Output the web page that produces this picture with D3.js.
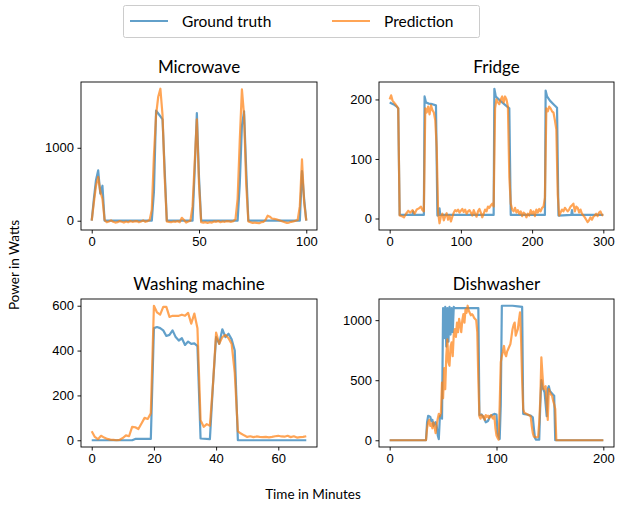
<!DOCTYPE html>
<html>
<head>
<meta charset="utf-8">
<script src="https://cdn.jsdelivr.net/npm/d3@7"></script>
<style>
  body { margin: 0; background: #fff; }
  svg { font-family: Lato, "Open Sans", sans-serif; }
</style>
</head>
<body>
<svg id="chart" width="618" height="508"></svg>
<script>
// values, as [minute, watts] pairs
const microwaveTruth = [[0,0],[1,300],[2,560],[3,690],[4,370],[5,480],[6,0],[28,0],[29,400],[30,1510],[31,1470],[32,1430],[33,1390],[34,700],[35,0],[47,0],[48,700],[49,1475],[50,600],[51,0],[68,0],[69,500],[70,1300],[71,1500],[72,700],[73,0],[97,0],[98,680],[99,300],[100,0]];
const microwavePred = [[0,0],[1,250],[2,480],[3,600],[4,400],[5,300],[6,10],[7,-20],[8,-10],[9,5],[10,-15],[11,-25],[12,-20],[13,-5],[14,-15],[15,-25],[16,-10],[17,-20],[18,-5],[19,-15],[20,-10],[21,-5],[22,-20],[23,-10],[24,5],[25,-15],[26,-5],[27,10],[28,150],[29,900],[30,1450],[31,1700],[32,1810],[33,1450],[34,600],[35,-10],[36,-15],[37,-20],[38,-10],[39,-15],[40,-5],[41,-20],[42,40],[43,10],[44,-25],[45,-10],[46,0],[47,200],[48,800],[49,1390],[50,500],[51,-20],[52,-25],[53,-20],[54,-30],[55,-20],[56,-25],[57,-10],[58,-15],[59,-5],[60,-20],[61,-10],[62,-15],[63,-5],[64,-10],[65,-15],[66,-5],[67,20],[68,300],[69,1100],[70,1800],[71,1450],[72,500],[73,-10],[74,-20],[75,-30],[76,-25],[77,-30],[78,-35],[79,-20],[80,-15],[81,10],[82,70],[83,55],[84,30],[85,25],[86,20],[87,10],[88,0],[89,-10],[90,-20],[91,-30],[92,-25],[93,-15],[94,-10],[95,0],[96,10],[97,200],[98,840],[99,250],[100,0]];

const fridgeTruth = [[0,195],[5,192],[10,188],[12,185],[14,6],[32,6],[33,12],[34,6],[48,6],[49,205],[51,195],[55,193],[60,192],[65,190],[67,5],[69,6],[70,17],[71,6],[146,6],[147,218],[149,205],[155,198],[160,193],[165,188],[168,185],[170,6],[218,6],[219,215],[221,205],[225,198],[230,192],[235,186],[237,5],[255,6],[256,14],[257,6],[300,6]];
const fridgePred = [[0,200],[2,207],[4,198],[8,192],[12,185],[14,5],[17,4],[20,2],[23,8],[26,13],[29,10],[32,14],[35,8],[38,15],[41,17],[44,20],[46,14],[48,12],[50,185],[52,178],[54,188],[56,175],[58,190],[60,182],[62,178],[64,165],[66,120],[68,10],[70,-8],[72,4],[74,8],[76,-3],[78,4],[80,9],[82,-2],[84,5],[86,-5],[88,3],[90,10],[92,14],[94,12],[96,15],[98,10],[100,13],[102,16],[104,11],[106,15],[108,8],[110,12],[112,14],[114,10],[116,5],[118,14],[120,8],[122,3],[124,12],[126,16],[128,10],[130,2],[132,8],[134,15],[136,12],[138,20],[140,18],[142,22],[144,25],[146,20],[148,185],[150,200],[152,195],[154,192],[156,200],[158,205],[160,195],[162,205],[164,200],[166,188],[168,70],[170,25],[172,15],[174,12],[176,18],[178,10],[180,14],[182,8],[184,12],[186,4],[188,10],[190,8],[192,2],[194,8],[196,5],[198,14],[200,8],[202,12],[204,4],[206,15],[208,10],[210,16],[212,12],[214,18],[216,20],[218,35],[220,185],[222,180],[224,188],[226,185],[228,180],[230,178],[232,165],[234,150],[236,40],[238,5],[240,10],[242,15],[244,12],[246,18],[248,15],[250,12],[252,15],[254,20],[256,22],[258,25],[260,12],[262,20],[264,18],[266,10],[268,15],[270,8],[272,5],[274,2],[276,-2],[278,-6],[280,-3],[282,2],[284,-2],[286,3],[288,5],[290,8],[292,4],[294,10],[296,12],[298,6],[300,5]];

const washingTruth = [[0,0],[13,0],[14,6],[19,6],[20,500],[21,505],[22,500],[23,490],[24,465],[25,470],[26,490],[27,460],[28,445],[29,455],[30,425],[31,440],[32,430],[33,432],[34,420],[35,8],[38,5],[39,250],[40,460],[41,430],[42,495],[43,460],[44,475],[45,450],[46,400],[47,0],[69,0]];
const washingPred = [[0,40],[1,15],[2,5],[3,20],[4,12],[5,6],[6,3],[7,2],[8,0],[9,2],[10,10],[11,22],[12,18],[13,60],[14,58],[15,50],[16,75],[17,100],[18,95],[19,120],[20,600],[21,570],[22,560],[23,595],[24,595],[25,550],[26,555],[27,555],[28,555],[29,560],[30,555],[31,568],[32,520],[33,565],[34,500],[35,90],[36,60],[37,72],[38,65],[39,250],[40,480],[41,430],[42,460],[43,470],[44,455],[45,430],[46,300],[47,40],[48,30],[49,22],[50,15],[51,18],[52,14],[53,17],[54,15],[55,14],[56,15],[57,13],[58,15],[59,18],[60,20],[61,17],[62,16],[63,20],[64,14],[65,18],[66,12],[67,14],[68,15],[69,18]];

const dishTruth = [[0,0],[34,0],[35,150],[36,203],[37,200],[38,195],[39,160],[40,170],[41,120],[42,140],[43,150],[44,120],[45,40],[46,10],[47,200],[48,210],[49,180],[50,1100],[51,850],[52,1110],[53,780],[54,1100],[55,820],[56,1110],[57,880],[58,1100],[59,900],[60,1110],[61,1100],[83,1100],[84,210],[86,215],[88,190],[90,150],[92,160],[94,200],[96,210],[98,220],[100,215],[101,60],[102,30],[103,10],[104,300],[105,1120],[115,1120],[120,1115],[124,1110],[125,220],[128,215],[130,210],[132,205],[134,190],[135,100],[136,20],[137,5],[140,5],[141,300],[142,500],[143,440],[144,420],[145,400],[146,300],[147,200],[148,430],[149,450],[150,410],[151,400],[152,390],[153,380],[154,370],[155,0],[200,0]];
const dishPred = [[0,0],[34,0],[35,100],[36,150],[37,170],[38,120],[39,140],[40,100],[41,150],[42,110],[43,60],[44,130],[45,180],[46,220],[47,200],[48,230],[49,480],[50,350],[51,600],[52,425],[53,700],[54,840],[55,650],[56,620],[57,780],[58,815],[59,700],[60,880],[61,925],[62,860],[63,980],[64,900],[65,1010],[66,960],[67,900],[68,1000],[69,1050],[70,980],[71,1090],[72,1060],[73,1120],[74,1080],[75,1060],[76,1040],[77,1050],[78,1040],[79,1020],[80,1010],[81,1000],[82,900],[83,500],[84,200],[85,180],[86,210],[87,190],[88,200],[89,170],[90,210],[91,195],[92,205],[93,185],[94,200],[95,210],[96,190],[97,180],[98,200],[99,100],[100,40],[101,20],[102,5],[103,300],[104,650],[105,700],[106,740],[107,785],[108,720],[109,700],[110,740],[111,760],[112,780],[113,800],[114,860],[115,925],[116,960],[117,980],[118,870],[119,900],[120,925],[121,1000],[122,1065],[123,840],[124,500],[125,258],[126,230],[127,225],[128,220],[129,217],[130,210],[131,205],[132,200],[133,120],[134,60],[135,30],[136,28],[137,25],[138,25],[139,30],[140,150],[141,340],[142,690],[143,550],[144,425],[145,440],[146,450],[147,300],[148,170],[149,425],[150,400],[151,380],[152,370],[153,330],[154,300],[155,260],[156,0],[200,0]];

const titles = ["Microwave", "Fridge", "Washing machine", "Dishwasher"];
const xTicks = [[0, 50, 100], [0, 100, 200, 300], [0, 20, 40, 60], [0, 100, 200]];
const yTicks = [[0, 1000], [0, 100, 200], [0, 200, 400, 600], [0, 500, 1000]];
const seriesNames = ["Ground truth", "Prediction"];

const panels = [
  { truth: microwaveTruth, pred: microwavePred, x0: 81, x1: 317, y0: 82, y1: 230 },
  { truth: fridgeTruth, pred: fridgePred, x0: 379, x1: 614, y0: 82, y1: 230 },
  { truth: washingTruth, pred: washingPred, x0: 81, x1: 317, y0: 299, y1: 447 },
  { truth: dishTruth, pred: dishPred, x0: 379, x1: 614, y0: 299, y1: 447 },
];

const colors = ["#1f77b4", "#ff7f0e"];
const svg = d3.select("#chart");

// matplotlib style 5% margins
function padded(ext) {
  const m = (ext[1] - ext[0]) * 0.05;
  return [ext[0] - m, ext[1] + m];
}

panels.forEach((p, i) => {
  const all = p.truth.concat(p.pred);
  const x = d3.scaleLinear().domain(padded(d3.extent(all, (d) => d[0]))).range([p.x0, p.x1]);
  const y = d3.scaleLinear().domain(padded(d3.extent(all, (d) => d[1]))).range([p.y1, p.y0]);

  const g = svg.append("g").attr("class", "panel");

  const line = d3.line().x((d) => x(d[0])).y((d) => y(d[1]));
  [p.truth, p.pred].forEach((s, k) => {
    g.append("path")
      .datum(s)
      .attr("fill", "none")
      .attr("stroke", colors[k])
      .attr("stroke-opacity", 0.7)
      .attr("stroke-width", 2.2)
      .attr("stroke-linejoin", "round")
      .attr("d", line);
  });

  g.append("rect")
    .attr("x", p.x0).attr("y", p.y0)
    .attr("width", p.x1 - p.x0).attr("height", p.y1 - p.y0)
    .attr("fill", "none").attr("stroke", "#000").attr("stroke-width", 0.9);

  const xa = g.append("g")
    .attr("transform", `translate(0,${p.y1})`)
    .call(d3.axisBottom(x).tickValues(xTicks[i]).tickFormat(d3.format("d"))
      .tickSize(3.5).tickPadding(3.5).tickSizeOuter(0));
  const ya = g.append("g")
    .attr("transform", `translate(${p.x0},0)`)
    .call(d3.axisLeft(y).tickValues(yTicks[i]).tickFormat(d3.format("d"))
      .tickSize(3.5).tickPadding(3.5).tickSizeOuter(0));
  [xa, ya].forEach((a) => {
    a.select(".domain").remove();
    a.selectAll("text").attr("font-size", 13).attr("fill", "#000").attr("font-family", null);
    a.selectAll("line").attr("stroke", "#000").attr("stroke-width", 0.9);
  });

  g.append("text")
    .attr("x", (p.x0 + p.x1) / 2)
    .attr("y", p.y0 - 9)
    .attr("text-anchor", "middle")
    .attr("font-size", 17)
    .text(titles[i]);
});

svg.append("text")
  .attr("x", 313).attr("y", 499)
  .attr("text-anchor", "middle").attr("font-size", 13.5)
  .text("Time in Minutes");

svg.append("text")
  .attr("transform", "translate(19,265) rotate(-90)")
  .attr("text-anchor", "middle").attr("font-size", 13.5)
  .text("Power in Watts");

// legend
const legend = svg.append("g");
legend.append("rect")
  .attr("x", 123.5).attr("y", 5.5).attr("width", 356).attr("height", 32).attr("rx", 2)
  .attr("fill", "#fff").attr("stroke", "#ccc");
const legendX = [130, 332];
seriesNames.forEach((name, k) => {
  legend.append("line")
    .attr("x1", legendX[k]).attr("x2", legendX[k] + 38)
    .attr("y1", 21).attr("y2", 21)
    .attr("stroke", colors[k]).attr("stroke-opacity", 0.7).attr("stroke-width", 2.2);
  legend.append("text")
    .attr("x", legendX[k] + 52).attr("y", 26.5)
    .attr("font-size", 15.5)
    .text(name);
});
</script>
</body>
</html>
